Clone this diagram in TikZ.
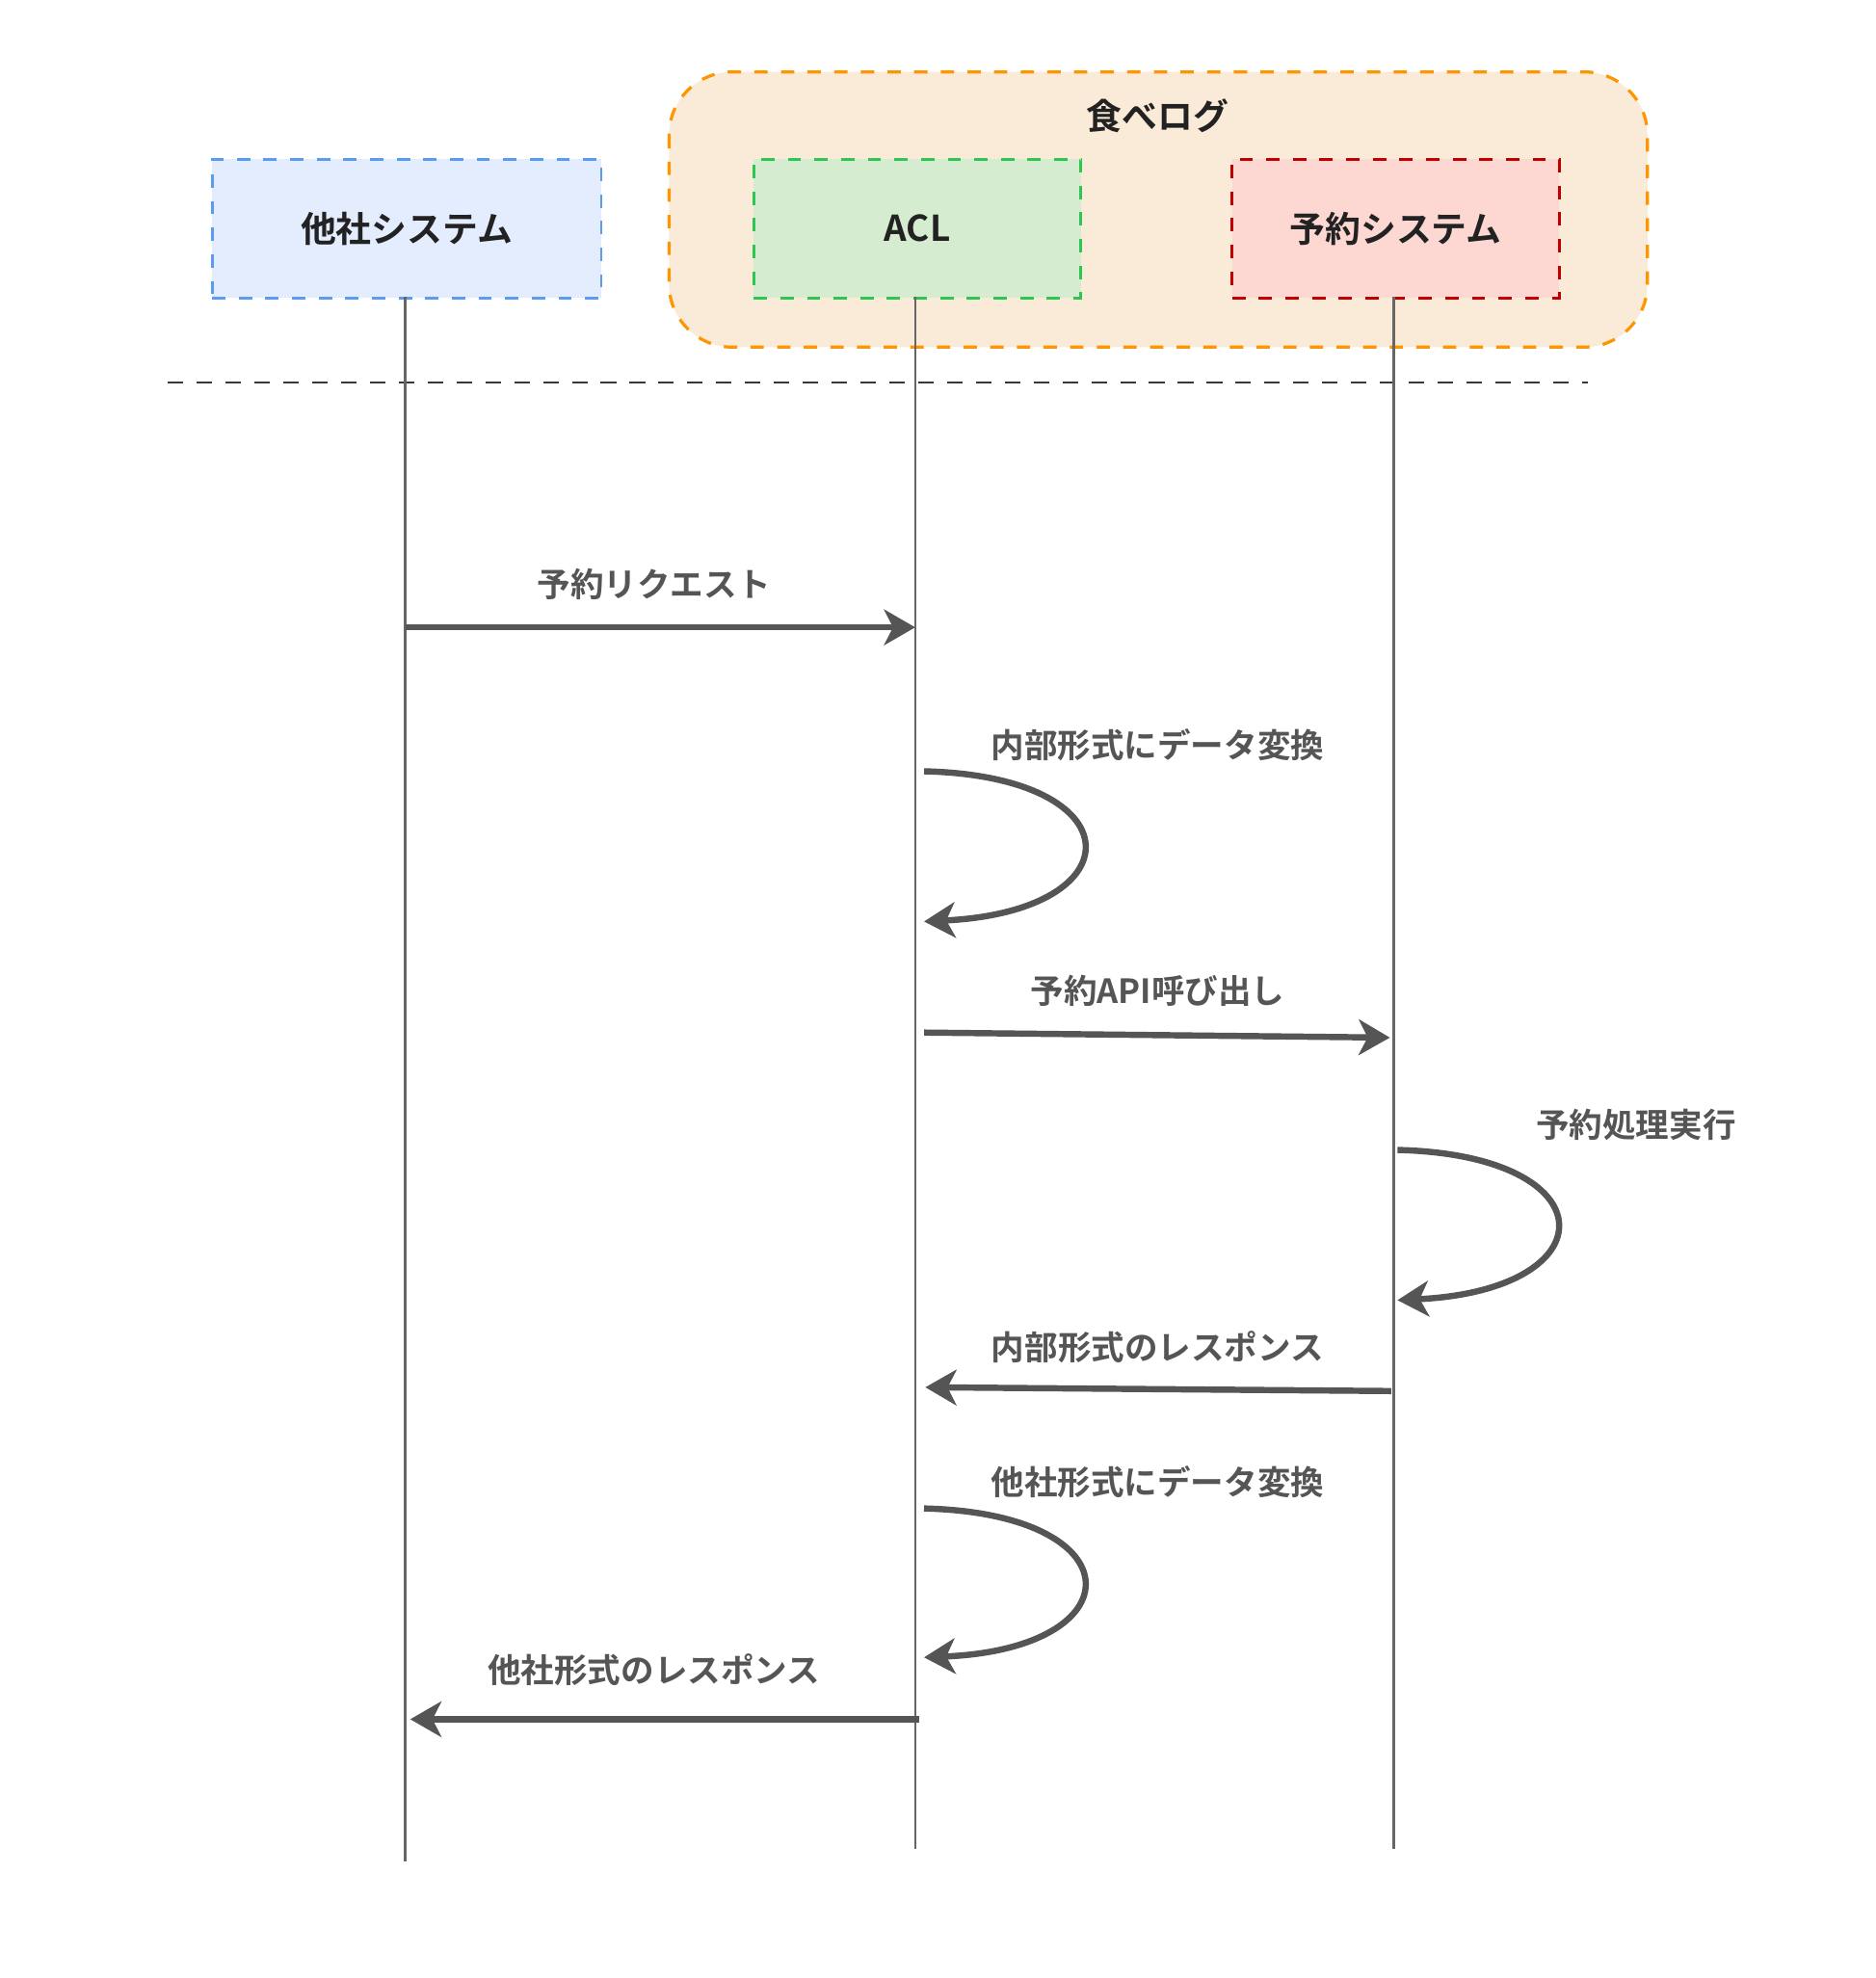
\documentclass[tikz,border=0pt]{standalone}
\usepackage{fontspec}
\newfontfamily\cjk{Noto Sans CJK JP}[BoldFont={Noto Sans CJK JP Bold}]
\usetikzlibrary{arrows.meta}
\definecolor{arr}{HTML}{555555}
\definecolor{ttl}{HTML}{222222}
\tikzset{
 x=0.01cm,y=-0.01cm,
 box/.style={draw,dashed,line width=0.6pt,minimum width=#1,anchor=north west,minimum height=1.1cm,font=\cjk\bfseries\fontsize{8}{10}\selectfont,text=ttl},
 life/.style={draw=arr!90,line width=0.5pt},
 msg/.style={draw=arr,line width=1.4pt,-{Stealth[length=7pt,width=8pt,inset=2pt]}},
 lbl/.style={font=\cjk\bfseries\fontsize{7.5}{9}\selectfont,text=arr},
}
\begin{document}
\begin{tikzpicture}
\useasboundingbox (0,0) rectangle (1486,1567);
\draw[dashed,draw=orange!70!yellow!90!red,line width=0.7pt,fill={rgb,255:red,250;green,234;blue,216},rounded corners=0.5cm] (530,57) rectangle (1305,275);
\node[font=\cjk\bfseries\fontsize{8}{10}\selectfont,text=ttl] (tab) at (917,92) {食べログ};
\node[box=3.08cm,draw={rgb,255:red,91;green,155;blue,240},fill={rgb,255:red,227;green,237;blue,253}] (o) at (167,125) {他社システム};
\node[box=2.59cm,draw={rgb,255:red,45;green,198;blue,83},fill={rgb,255:red,213;green,236;blue,208}] (a) at (596,125) {ACL};
\node[box=2.59cm,draw={rgb,255:red,192;green,0;blue,0},fill={rgb,255:red,253;green,216;blue,210}] (r) at (975,125) {予約システム};
\coordinate (dl) at (133,303); \coordinate (dr) at (1258,303);
\draw[draw=ttl!90,line width=0.6pt,dash pattern=on 3.5pt off 3pt] (dl) -- (dr);
\coordinate (oe) at (321,1475); \coordinate (ae) at (725,1465); \coordinate (re) at (1104,1465);
\draw[life] (321,235) -- (oe);
\draw[life] (725,235) -- (ae);
\draw[life] (1104,235) -- (re);
% messages
\coordinate (m1s) at (321,497); \coordinate (m1e) at (725,497);
\draw[msg] (m1s) -- (m1e);
\node[lbl] (l1) at (518,463) {予約リクエスト};
\coordinate (s1a) at (732,611); \coordinate (s1b) at (732,730);
\draw[msg] (s1a) .. controls (900,615) and (900,722) .. (s1b);
\node[lbl] (l2) at (917,590) {内部形式にデータ変換};
\coordinate (m2s) at (732,818); \coordinate (m2e) at (1101,822);
\draw[msg] (m2s) -- (m2e);
\node[lbl] (l3) at (917,785) {予約API呼び出し};
\coordinate (s2a) at (1107,911); \coordinate (s2b) at (1107,1030);
\draw[msg] (s2a) .. controls (1275,915) and (1275,1022) .. (s2b);
\node[lbl] (l4) at (1296,891) {予約処理実行};
\coordinate (m3s) at (1102,1102); \coordinate (m3e) at (733,1099);
\draw[msg] (m3s) -- (m3e);
\node[lbl] (l5) at (917,1067) {内部形式のレスポンス};
\coordinate (s3a) at (732,1195); \coordinate (s3b) at (732,1313);
\draw[msg] (s3a) .. controls (900,1199) and (900,1306) .. (s3b);
\node[lbl] (l6) at (917,1174) {他社形式にデータ変換};
\coordinate (m4s) at (728,1362); \coordinate (m4e) at (325,1362);
\draw[msg] (m4s) -- (m4e);
\node[lbl] (l7) at (518,1323) {他社形式のレスポンス};
\end{tikzpicture}
\end{document}
